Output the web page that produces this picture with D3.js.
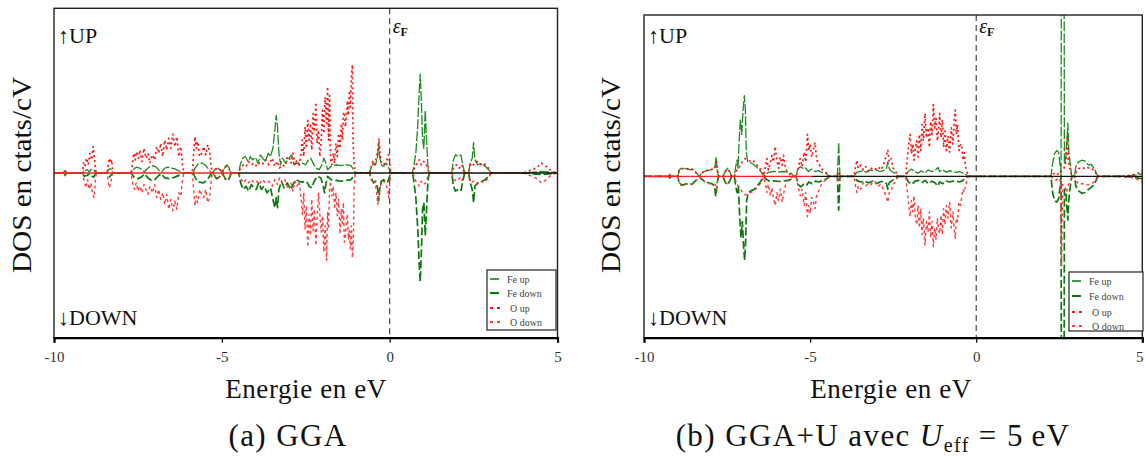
<!DOCTYPE html>
<html><head><meta charset="utf-8">
<script src="https://cdn.jsdelivr.net/npm/d3@7"></script>
<style>
html,body{margin:0;padding:0;background:#fff;}
svg{display:block;font-family:"Liberation Serif","Times New Roman",serif;}
</style></head>
<body>
<svg id="chart" width="1145" height="457"></svg>
<script>
// ---------- data ----------
const energyTicks = [-10, -5, 0, 5];
const tickLabels = ["-10", "-5", "0", "5"];
const seriesNames = ["Fe up", "Fe down", "O up", "O down"];
const panelCaptions = ["(a) GGA", "(b) GGA+U avec "];
const zeroLineStart = [-4.5, -4.96];

// GGA
const ggaFeUp = [[-10,0],[-9.72,0],[-9.7,0.1],[-9.67,0.15],[-9.64,0.1],[-9.62,0],
[-9.15,0],[-9.1,0.2],[-9.05,0.15],[-9.0,0.2],[-8.95,0.05],[-8.9,0.2],[-8.85,0.25],[-8.8,0.15],[-8.75,0],
[-8.42,0],[-8.38,0.2],[-8.33,0.25],[-8.28,0.2],[-8.25,0],
[-7.7,0],[-7.65,0.2],[-7.55,0.35],[-7.45,0.3],[-7.35,0.15],[-7.3,0.05],[-7.25,0.2],[-7.15,0.4],[-7.05,0.45],[-6.95,0.35],[-6.85,0.1],[-6.8,0.05],[-6.7,0.3],[-6.6,0.35],[-6.5,0.3],[-6.4,0.25],[-6.3,0.15],[-6.2,0.05],[-6.15,0],
[-5.85,0],[-5.8,0.3],[-5.7,0.55],[-5.6,0.6],[-5.5,0.5],[-5.42,0.3],[-5.35,0.1],[-5.3,0],
[-5.25,0.1],[-5.15,0.35],[-5.05,0.2],[-4.98,0],[-4.92,0.3],[-4.85,0.5],[-4.78,0.3],[-4.72,0],
[-4.5,0],[-4.45,0.5],[-4.38,0.9],[-4.3,1.0],[-4.22,0.7],[-4.15,1.0],[-4.08,0.8],[-4.0,0.95],[-3.92,0.6],[-3.85,1.1],[-3.78,0.9],[-3.7,0.7],[-3.62,1.2],[-3.55,1.0],[-3.48,1.5],[-3.42,2.6],[-3.38,3.5],[-3.34,2.8],[-3.3,1.2],[-3.25,0.5],[-3.2,0.9],[-3.1,0.6],[-3.0,0.9],[-2.92,1.1],[-2.85,0.5],[-2.78,0.6],[-2.7,0.55],[-2.6,0.6],[-2.5,0.5],[-2.42,0.8],[-2.35,0.9],[-2.28,0.6],[-2.2,0.3],[-2.1,0.2],[-2.02,0.5],[-1.96,0.9],[-1.9,0.6],[-1.85,0.2],[-1.75,0.4],[-1.6,0.5],[-1.45,0.45],[-1.3,0.5],[-1.15,0.45],[-1.05,0.1],[-1.0,0],
[-0.6,0],[-0.55,0.3],[-0.48,0.6],[-0.42,0.5],[-0.36,1.0],[-0.33,1.8],[-0.3,1.0],[-0.25,0.5],[-0.18,0.4],[-0.1,0.6],[-0.05,0.4],[0.0,0.2],[0.05,0],
[0.68,0],[0.72,0.4],[0.78,1.2],[0.84,3.0],[0.88,5.0],[0.91,6.0],[0.95,4.0],[0.98,2.0],[1.02,1.5],[1.06,3.8],[1.1,2.0],[1.14,0.4],[1.18,0],
[1.85,0],[1.9,0.8],[1.96,1.1],[2.05,1.0],[2.12,1.1],[2.2,0.3],[2.24,0],
[2.35,0],[2.4,0.6],[2.46,0.9],[2.5,1.85],[2.54,0.8],[2.62,0.5],[2.75,0.6],[2.85,0.4],[2.95,0.2],[3.02,0],
[4.0,0],[4.3,0.05],[4.55,0.1],[4.8,0.05],[5,0]];

const ggaFeDown = [[-10,0],[-9.72,0],[-9.67,-0.15],[-9.62,0],
[-9.15,0],[-9.1,-0.2],[-9.02,-0.15],[-8.95,-0.05],[-8.88,-0.2],[-8.82,-0.25],[-8.75,0],
[-8.42,0],[-8.35,-0.25],[-8.25,0],
[-7.7,0],[-7.6,-0.3],[-7.5,-0.35],[-7.4,-0.25],[-7.3,-0.05],[-7.2,-0.3],[-7.1,-0.45],[-7.0,-0.4],[-6.88,-0.15],[-6.8,-0.05],[-6.7,-0.3],[-6.55,-0.35],[-6.4,-0.25],[-6.25,-0.12],[-6.15,0],
[-5.85,0],[-5.78,-0.35],[-5.68,-0.55],[-5.55,-0.6],[-5.45,-0.45],[-5.35,-0.15],[-5.3,0],
[-5.25,-0.1],[-5.15,-0.35],[-5.05,-0.2],[-4.98,0],[-4.9,-0.35],[-4.82,-0.45],[-4.75,-0.2],[-4.72,0],
[-4.5,0],[-4.44,-0.6],[-4.36,-1.0],[-4.28,-0.8],[-4.2,-1.1],[-4.12,-0.7],[-4.05,-0.9],[-3.98,-1.0],[-3.9,-0.6],[-3.82,-1.0],[-3.75,-0.8],[-3.65,-1.2],[-3.55,-0.9],[-3.48,-1.6],[-3.42,-2.1],[-3.38,-1.5],[-3.34,-2.1],[-3.3,-1.0],[-3.22,-0.5],[-3.15,-0.9],[-3.05,-0.6],[-2.95,-1.0],[-2.88,-0.7],[-2.8,-0.4],[-2.7,-0.5],[-2.6,-0.55],[-2.48,-0.5],[-2.4,-0.8],[-2.32,-0.9],[-2.25,-0.5],[-2.15,-0.2],[-2.05,-0.3],[-1.98,-0.8],[-1.94,-1.2],[-1.9,-0.7],[-1.85,-0.2],[-1.75,-0.4],[-1.6,-0.45],[-1.45,-0.5],[-1.3,-0.45],[-1.15,-0.4],[-1.05,-0.1],[-1.0,0],
[-0.6,0],[-0.55,-0.3],[-0.48,-0.6],[-0.42,-0.5],[-0.36,-0.9],[-0.33,-1.7],[-0.3,-1.0],[-0.25,-0.5],[-0.18,-0.4],[-0.1,-0.6],[-0.05,-0.5],[0.0,-0.2],[0.05,0],
[0.68,0],[0.72,-0.5],[0.78,-1.5],[0.84,-3.5],[0.88,-5.5],[0.91,-6.6],[0.95,-4.5],[0.98,-2.2],[1.02,-1.8],[1.06,-3.8],[1.1,-2.2],[1.14,-0.5],[1.18,0],
[1.85,0],[1.9,-0.8],[1.96,-1.1],[2.05,-1.0],[2.12,-1.1],[2.2,-0.3],[2.24,0],
[2.35,0],[2.4,-0.6],[2.46,-1.0],[2.5,-1.8],[2.54,-0.8],[2.62,-0.6],[2.75,-0.5],[2.85,-0.4],[2.95,-0.2],[3.02,0],
[4.0,0],[4.55,-0.1],[5,0]];

const ggaOUp = [[-10,0],[-9.72,0],[-9.67,0.15],[-9.62,0],
[-9.15,0],[-9.12,0.6],[-9.08,0.4],[-9.03,0.9],[-8.98,0.5],[-8.93,1.2],[-8.88,0.8],[-8.83,1.6],[-8.8,1.0],[-8.77,0.3],[-8.74,0],
[-8.42,0],[-8.38,0.5],[-8.35,0.9],[-8.32,0.6],[-8.28,0.8],[-8.25,0],
[-7.7,0],[-7.66,0.6],[-7.62,1.2],[-7.58,0.8],[-7.54,1.3],[-7.48,0.9],[-7.44,1.4],[-7.38,0.7],[-7.32,1.5],[-7.26,0.9],[-7.2,1.2],[-7.14,0.6],[-7.08,1.1],[-7.0,0.8],[-6.94,1.6],[-6.88,1.2],[-6.82,1.8],[-6.76,1.0],[-6.7,2.0],[-6.64,1.4],[-6.58,2.1],[-6.52,1.5],[-6.46,2.36],[-6.4,1.6],[-6.34,2.2],[-6.28,1.0],[-6.22,1.6],[-6.17,0.5],[-6.13,0],
[-5.88,0],[-5.84,1.2],[-5.8,2.2],[-5.76,1.5],[-5.72,1.9],[-5.66,1.0],[-5.6,1.2],[-5.54,1.6],[-5.48,1.1],[-5.42,1.7],[-5.36,1.2],[-5.31,0.3],[-5.28,0],
[-5.2,0.2],[-5.1,0.3],[-5.0,0.05],[-4.9,0.4],[-4.8,0.3],[-4.72,0],
[-4.5,0],[-4.44,0.3],[-4.36,0.5],[-4.28,0.4],[-4.2,0.7],[-4.12,0.5],[-4.04,0.6],[-3.96,0.4],[-3.88,0.6],[-3.8,0.5],[-3.7,0.8],[-3.6,0.5],[-3.5,0.9],[-3.42,0.4],[-3.35,0.7],[-3.28,0.3],[-3.2,0.5],[-3.12,0.4],[-3.06,0.9],[-3.0,1.0],[-2.94,0.6],[-2.88,1.2],[-2.82,0.5],[-2.76,0.8],[-2.7,0.4],
[-2.64,1.2],[-2.6,2.0],[-2.56,1.0],[-2.52,2.8],[-2.48,1.5],[-2.44,3.2],[-2.4,2.0],[-2.36,3.0],[-2.32,1.4],[-2.28,3.6],[-2.24,2.5],[-2.2,4.3],[-2.16,1.8],[-2.12,2.6],[-2.08,1.0],[-2.04,2.0],[-2.0,3.8],[-1.96,2.4],[-1.92,4.6],[-1.88,3.0],[-1.85,5.25],[-1.82,2.0],[-1.79,4.7],[-1.76,0.8],[-1.72,0.5],[-1.68,1.2],[-1.64,0.6],[-1.6,1.8],[-1.56,1.0],[-1.52,2.4],[-1.48,1.5],[-1.44,3.0],[-1.41,2.0],[-1.38,3.6],[-1.35,3.7],[-1.32,2.8],[-1.29,3.5],[-1.26,4.4],[-1.23,3.5],[-1.2,5.0],[-1.17,4.0],[-1.14,5.8],[-1.11,6.57],[-1.09,2.0],[-1.06,0.5],[-1.03,0.1],[-1.0,0],
[-0.6,0],[-0.55,0.4],[-0.5,0.7],[-0.45,0.5],[-0.4,0.9],[-0.35,1.4],[-0.32,2.1],[-0.29,1.2],[-0.25,0.6],[-0.18,0.5],[-0.12,0.7],[-0.06,0.9],[-0.03,1.1],[0.0,0.6],[0.04,0],
[0.7,0],[0.75,0.4],[0.82,0.6],[0.88,0.8],[0.94,0.5],[1.0,0.7],[1.08,0.6],[1.14,0.2],[1.18,0],
[1.85,0],[1.92,0.4],[2.0,0.5],[2.08,0.3],[2.15,0.5],[2.22,0],
[2.35,0],[2.42,0.6],[2.5,0.5],[2.6,0.7],[2.7,0.5],[2.8,0.6],[2.9,0.4],[2.98,0.2],[3.02,0],
[4.0,0],[4.1,0.1],[4.25,0.2],[4.4,0.35],[4.52,0.6],[4.6,0.5],[4.7,0.35],[4.8,0.15],[4.9,0.05],[5,0]];

const ggaODown = [[-10,0],[-9.72,0],[-9.67,-0.15],[-9.62,0],
[-9.15,0],[-9.1,-0.5],[-9.05,-0.9],[-9.0,-0.4],[-8.95,-1.0],[-8.9,-0.6],[-8.85,-1.3],[-8.8,-1.5],[-8.77,-0.5],[-8.74,0],
[-8.42,0],[-8.38,-0.6],[-8.35,-0.9],[-8.3,-0.5],[-8.25,0],
[-7.7,0],[-7.65,-0.7],[-7.6,-1.0],[-7.55,-0.6],[-7.5,-1.1],[-7.44,-0.8],[-7.38,-1.2],[-7.32,-0.7],[-7.26,-1.0],[-7.2,-1.3],[-7.14,-0.8],[-7.06,-1.2],[-7.0,-0.7],[-6.94,-1.5],[-6.88,-1.0],[-6.82,-1.6],[-6.76,-1.2],[-6.7,-1.9],[-6.64,-1.3],[-6.58,-2.2],[-6.52,-1.6],[-6.46,-2.3],[-6.4,-1.7],[-6.34,-2.2],[-6.28,-1.2],[-6.22,-1.4],[-6.17,-0.4],[-6.13,0],
[-5.88,0],[-5.84,-1.0],[-5.8,-2.0],[-5.76,-1.4],[-5.72,-1.8],[-5.66,-1.0],[-5.6,-1.3],[-5.54,-1.5],[-5.48,-1.0],[-5.42,-1.8],[-5.36,-1.5],[-5.31,-0.3],[-5.28,0],
[-5.2,-0.2],[-5.1,-0.3],[-5.0,-0.05],[-4.9,-0.4],[-4.8,-0.3],[-4.72,0],
[-4.5,0],[-4.44,-0.3],[-4.36,-0.6],[-4.28,-0.4],[-4.2,-0.6],[-4.12,-0.4],[-4.04,-0.6],[-3.96,-0.5],[-3.88,-0.7],[-3.8,-0.4],[-3.7,-0.6],[-3.6,-0.5],[-3.5,-0.8],[-3.42,-0.4],[-3.35,-0.7],[-3.28,-0.3],[-3.2,-0.6],[-3.12,-0.4],[-3.06,-0.8],[-3.0,-1.0],[-2.94,-0.6],[-2.88,-1.1],[-2.82,-0.5],[-2.76,-0.8],[-2.7,-0.5],
[-2.64,-1.5],[-2.6,-2.5],[-2.56,-1.2],[-2.52,-3.4],[-2.48,-2.0],[-2.44,-4.5],[-2.4,-2.5],[-2.36,-3.8],[-2.32,-1.6],[-2.28,-3.5],[-2.24,-2.2],[-2.2,-4.4],[-2.16,-2.8],[-2.12,-1.2],[-2.08,-2.5],[-2.04,-3.6],[-2.0,-2.6],[-1.96,-4.8],[-1.92,-3.2],[-1.88,-5.3],[-1.85,-2.4],[-1.82,-3.4],[-1.79,-0.9],[-1.76,-0.5],[-1.72,-1.4],[-1.68,-0.8],[-1.64,-2.2],[-1.6,-1.2],[-1.56,-2.6],[-1.52,-1.6],[-1.48,-3.7],[-1.44,-2.2],[-1.41,-3.2],[-1.38,-1.8],[-1.35,-4.2],[-1.32,-3.9],[-1.29,-3.0],[-1.26,-2.5],[-1.23,-4.0],[-1.2,-3.5],[-1.17,-4.6],[-1.14,-3.2],[-1.11,-5.15],[-1.08,-4.0],[-1.06,-1.0],[-1.03,-0.1],[-1.0,0],
[-0.6,0],[-0.55,-0.4],[-0.5,-0.6],[-0.45,-0.5],[-0.4,-1.0],[-0.35,-1.9],[-0.32,-1.5],[-0.29,-0.9],[-0.25,-0.6],[-0.18,-0.5],[-0.12,-0.7],[-0.06,-1.0],[-0.03,-1.5],[0.0,-0.6],[0.04,0],
[0.7,0],[0.75,-0.4],[0.82,-0.6],[0.88,-0.8],[0.94,-0.5],[1.0,-0.7],[1.08,-0.6],[1.14,-0.2],[1.18,0],
[1.85,0],[1.92,-0.4],[2.0,-0.5],[2.08,-0.3],[2.15,-0.5],[2.22,0],
[2.35,0],[2.42,-0.6],[2.5,-0.5],[2.6,-0.7],[2.7,-0.5],[2.8,-0.6],[2.9,-0.4],[2.98,-0.2],[3.02,0],
[4.0,0],[4.1,-0.1],[4.25,-0.2],[4.4,-0.35],[4.52,-0.6],[4.6,-0.5],[4.7,-0.35],[4.8,-0.15],[4.9,-0.05],[5,0]];

// GGA+U
const ggauFeUp = [[-10,0],[-9.26,0],[-9.22,0.1],[-9.18,0],
[-8.98,0],[-8.94,0.4],[-8.88,0.5],[-8.8,0.45],[-8.72,0.5],[-8.62,0.4],[-8.55,0.45],[-8.45,0.3],[-8.38,0.1],[-8.33,0],
[-8.28,0.15],[-8.2,0.3],[-8.1,0.35],[-8.0,0.4],[-7.92,0.45],[-7.86,0.6],[-7.83,1.2],[-7.8,0.5],[-7.76,0],
[-7.62,0],[-7.55,0.35],[-7.48,0.5],[-7.42,0.3],[-7.36,0],
[-7.28,0],[-7.24,0.6],[-7.2,1.0],[-7.17,0.5],[-7.14,2.0],[-7.1,3.5],[-7.06,2.6],[-7.02,4.0],[-6.98,5.0],[-6.95,4.2],[-6.92,1.5],[-6.88,0.9],[-6.8,0.85],[-6.7,0.75],[-6.6,0.55],[-6.5,0.35],[-6.42,0.1],[-6.38,0],
[-6.34,0.15],[-6.25,0.25],[-6.1,0.3],[-5.95,0.28],[-5.8,0.3],[-5.65,0.25],[-5.55,0.15],[-5.48,0],
[-5.42,0],[-5.38,0.4],[-5.3,0.6],[-5.22,0.5],[-5.15,0.55],[-5.05,0.3],[-4.95,0.45],[-4.85,0.3],[-4.75,0.35],[-4.65,0.25],[-4.5,0.15],[-4.42,0],
[-4.18,0],[-4.16,1.0],[-4.14,2.1],[-4.12,1.0],[-4.1,0],
[-3.68,0],[-3.6,0.25],[-3.5,0.3],[-3.4,0.35],[-3.3,0.25],[-3.2,0.4],[-3.1,0.35],[-3.0,0.4],[-2.9,0.3],[-2.8,0.35],[-2.7,0.5],[-2.66,0.9],[-2.62,0.5],[-2.55,0.3],[-2.45,0.2],[-2.35,0],
[-2.12,0],[-2.05,0.3],[-1.95,0.45],[-1.85,0.3],[-1.75,0.2],[-1.65,0.35],[-1.55,0.2],[-1.45,0.4],[-1.35,0.3],[-1.25,0.35],[-1.15,0.55],[-1.1,0.3],[-1.0,0.4],[-0.9,0.25],[-0.8,0.35],[-0.7,0.3],[-0.6,0.25],[-0.5,0.3],[-0.4,0.2],[-0.3,0.1],[-0.25,0],
[2.25,0],[2.3,0.8],[2.36,1.4],[2.42,1.6],[2.48,1.5],[2.53,0.6],[2.555,0],[2.565,16],[2.645,16],[2.655,0.8],[2.7,1.2],[2.74,2.5],[2.76,3.3],[2.79,1.5],[2.84,0.6],[2.88,0],
[2.96,0],[3.0,0.6],[3.08,0.9],[3.18,1.0],[3.28,0.95],[3.38,0.7],[3.46,0.75],[3.55,0.5],[3.62,0.2],[3.66,0],
[4.2,0],[4.6,0.03],[4.85,0.1],[5,0.15]];

const ggauFeDown = [[-10,0],[-9.26,0],[-9.22,-0.1],[-9.18,0],
[-8.98,0],[-8.94,-0.45],[-8.86,-0.55],[-8.76,-0.5],[-8.66,-0.45],[-8.56,-0.5],[-8.46,-0.3],[-8.38,-0.1],[-8.33,0],
[-8.28,-0.15],[-8.18,-0.3],[-8.06,-0.4],[-7.96,-0.45],[-7.88,-0.6],[-7.84,-1.25],[-7.8,-0.5],[-7.76,0],
[-7.62,0],[-7.55,-0.4],[-7.48,-0.5],[-7.42,-0.3],[-7.36,0],
[-7.28,0],[-7.24,-0.6],[-7.2,-1.0],[-7.16,-0.6],[-7.12,-2.5],[-7.08,-3.8],[-7.04,-2.8],[-7.0,-4.4],[-6.97,-5.2],[-6.94,-4.0],[-6.91,-1.5],[-6.86,-1.0],[-6.78,-0.9],[-6.68,-0.8],[-6.58,-0.55],[-6.5,-0.35],[-6.42,-0.1],[-6.38,0],
[-6.34,-0.15],[-6.22,-0.3],[-6.08,-0.28],[-5.94,-0.32],[-5.8,-0.28],[-5.65,-0.25],[-5.55,-0.15],[-5.48,0],
[-5.42,0],[-5.36,-0.5],[-5.28,-0.65],[-5.2,-0.5],[-5.12,-0.6],[-5.04,-0.35],[-4.94,-0.45],[-4.84,-0.3],[-4.72,-0.35],[-4.6,-0.2],[-4.5,-0.15],[-4.42,0],
[-4.18,0],[-4.16,-1.0],[-4.14,-2.1],[-4.12,-1.0],[-4.1,0],
[-3.68,0],[-3.6,-0.25],[-3.48,-0.35],[-3.36,-0.3],[-3.24,-0.4],[-3.12,-0.3],[-3.0,-0.45],[-2.9,-0.35],[-2.8,-0.3],[-2.7,-0.45],[-2.66,-0.8],[-2.62,-0.4],[-2.52,-0.25],[-2.42,-0.15],[-2.35,0],
[-2.12,0],[-2.04,-0.35],[-1.94,-0.5],[-1.84,-0.3],[-1.74,-0.25],[-1.64,-0.4],[-1.54,-0.25],[-1.44,-0.45],[-1.34,-0.3],[-1.24,-0.4],[-1.16,-0.6],[-1.1,-0.35],[-1.0,-0.45],[-0.9,-0.3],[-0.8,-0.35],[-0.7,-0.3],[-0.6,-0.3],[-0.5,-0.35],[-0.4,-0.25],[-0.3,-0.1],[-0.25,0],
[2.25,0],[2.3,-1.0],[2.36,-1.5],[2.42,-1.6],[2.48,-1.4],[2.53,-0.6],[2.555,0],[2.565,-16],[2.645,-16],[2.655,-0.8],[2.7,-1.0],[2.74,-2.2],[2.76,-2.7],[2.79,-1.4],[2.84,-0.5],[2.88,0],
[2.96,0],[3.0,-0.6],[3.08,-0.9],[3.18,-1.05],[3.28,-1.0],[3.38,-0.8],[3.46,-0.7],[3.55,-0.5],[3.62,-0.2],[3.66,0],
[4.2,0],[4.6,-0.03],[4.85,-0.1],[5,-0.15]];

const ggauOUp = [[-10,0],[-9.26,0],[-9.22,0.12],[-9.18,0],
[-8.98,0],[-8.94,0.35],[-8.88,0.45],[-8.8,0.5],[-8.7,0.45],[-8.6,0.5],[-8.5,0.35],[-8.4,0.15],[-8.33,0],
[-8.26,0.2],[-8.16,0.35],[-8.04,0.4],[-7.94,0.45],[-7.86,0.5],[-7.82,0.9],[-7.79,0.3],[-7.76,0],
[-7.62,0],[-7.55,0.3],[-7.48,0.45],[-7.42,0.25],[-7.36,0],
[-7.28,0],[-7.2,0.4],[-7.12,0.6],[-7.04,0.9],[-6.96,1.1],[-6.88,1.0],[-6.8,0.95],[-6.72,1.0],[-6.64,0.8],[-6.56,0.6],[-6.48,0.4],[-6.4,0.05],
[-6.35,0.5],[-6.3,1.1],[-6.26,0.4],[-6.2,0.8],[-6.15,1.3],[-6.1,0.9],[-6.05,1.85],[-6.0,1.0],[-5.95,0.5],[-5.9,1.2],[-5.84,0.7],[-5.8,1.3],[-5.75,0.6],[-5.7,0.3],[-5.6,0.1],[-5.5,0],
[-5.42,0],[-5.36,0.5],[-5.3,1.1],[-5.24,0.6],[-5.18,1.5],[-5.13,0.9],[-5.08,2.6],[-5.04,1.6],[-5.0,2.0],[-4.95,1.2],[-4.9,1.7],[-4.85,2.1],[-4.8,1.0],[-4.74,0.8],[-4.66,0.5],[-4.58,0.3],[-4.5,0.2],[-4.42,0],
[-4.18,0],[-4.14,0.3],[-4.1,0],
[-3.68,0],[-3.63,0.6],[-3.59,1.0],[-3.55,0.5],[-3.48,0.7],[-3.4,0.4],[-3.32,0.6],[-3.24,0.3],[-3.16,0.5],[-3.06,0.4],[-2.96,0.6],[-2.86,0.4],[-2.78,0.8],[-2.72,1.2],[-2.66,1.65],[-2.62,0.9],[-2.56,1.1],[-2.5,0.5],[-2.42,0.3],[-2.35,0],
[-2.12,0],[-2.07,1.2],[-2.03,2.0],[-1.99,2.6],[-1.95,1.4],[-1.91,2.0],[-1.87,1.0],[-1.83,1.8],[-1.79,2.2],[-1.75,1.2],[-1.71,2.6],[-1.67,1.6],[-1.63,3.2],[-1.59,2.2],[-1.54,3.9],[-1.5,2.4],[-1.45,3.0],[-1.41,1.8],[-1.37,3.4],[-1.33,2.6],[-1.29,4.45],[-1.25,3.0],[-1.21,3.6],[-1.17,2.2],[-1.13,3.0],[-1.1,3.9],[-1.06,2.4],[-1.02,3.5],[-0.98,1.8],[-0.94,2.8],[-0.9,1.6],[-0.85,2.5],[-0.8,1.5],[-0.75,3.0],[-0.7,2.0],[-0.66,3.5],[-0.63,4.1],[-0.6,2.6],[-0.56,3.2],[-0.52,1.6],[-0.47,2.0],[-0.43,1.85],[-0.4,1.0],[-0.36,1.45],[-0.32,0.6],[-0.28,0.3],[-0.25,0.05],[-0.15,0],
[2.25,0],[2.32,0.15],[2.4,0.25],[2.48,0.1],[2.56,0.3],[2.64,0.5],[2.7,0.9],[2.74,2.5],[2.77,1.0],[2.84,0.3],[2.88,0],
[2.96,0],[3.02,0.3],[3.1,0.5],[3.2,0.45],[3.3,0.6],[3.4,0.5],[3.5,0.45],[3.58,0.3],[3.64,0],
[4.2,0],[4.5,0.03],[4.7,0.08],[4.85,0.18],[4.95,0.3],[5,0.35]];

const ggauODown = [[-10,0],[-9.26,0],[-9.22,-0.12],[-9.18,0],
[-8.98,0],[-8.94,-0.4],[-8.86,-0.5],[-8.76,-0.45],[-8.66,-0.5],[-8.56,-0.45],[-8.46,-0.35],[-8.38,-0.15],[-8.33,0],
[-8.26,-0.2],[-8.16,-0.35],[-8.04,-0.45],[-7.94,-0.45],[-7.86,-0.5],[-7.82,-0.8],[-7.79,-0.3],[-7.76,0],
[-7.62,0],[-7.55,-0.35],[-7.48,-0.5],[-7.42,-0.25],[-7.36,0],
[-7.28,0],[-7.2,-0.5],[-7.12,-0.7],[-7.04,-1.0],[-6.96,-1.15],[-6.88,-1.1],[-6.8,-1.0],[-6.72,-0.95],[-6.64,-0.8],[-6.56,-0.6],[-6.48,-0.4],[-6.4,-0.05],
[-6.35,-0.4],[-6.3,-1.0],[-6.26,-0.5],[-6.2,-1.2],[-6.15,-0.7],[-6.1,-1.4],[-6.05,-1.8],[-6.0,-1.0],[-5.95,-1.5],[-5.9,-0.8],[-5.84,-1.6],[-5.8,-1.1],[-5.75,-0.6],[-5.7,-0.3],[-5.6,-0.1],[-5.5,0],
[-5.42,0],[-5.36,-0.6],[-5.3,-1.2],[-5.24,-0.8],[-5.18,-1.8],[-5.13,-1.0],[-5.08,-2.5],[-5.04,-1.8],[-5.0,-2.3],[-4.95,-1.3],[-4.9,-1.6],[-4.85,-2.0],[-4.8,-1.1],[-4.74,-0.9],[-4.66,-0.5],[-4.58,-0.3],[-4.5,-0.2],[-4.42,0],
[-4.18,0],[-4.14,-0.3],[-4.1,0],
[-3.68,0],[-3.63,-0.6],[-3.59,-1.0],[-3.55,-0.6],[-3.48,-0.8],[-3.4,-0.4],[-3.32,-0.6],[-3.24,-0.4],[-3.16,-0.5],[-3.06,-0.3],[-2.96,-0.6],[-2.86,-0.5],[-2.78,-0.9],[-2.72,-1.2],[-2.66,-1.6],[-2.62,-1.0],[-2.56,-0.9],[-2.5,-0.5],[-2.42,-0.3],[-2.35,0],
[-2.12,0],[-2.07,-1.0],[-2.03,-1.8],[-1.99,-2.5],[-1.95,-1.5],[-1.91,-2.2],[-1.87,-1.2],[-1.83,-2.6],[-1.79,-3.0],[-1.75,-1.8],[-1.71,-3.2],[-1.67,-2.0],[-1.63,-3.6],[-1.59,-2.6],[-1.54,-4.26],[-1.5,-2.8],[-1.45,-3.4],[-1.41,-2.2],[-1.37,-3.8],[-1.33,-2.8],[-1.29,-4.36],[-1.25,-3.2],[-1.21,-3.9],[-1.17,-2.6],[-1.13,-3.3],[-1.1,-3.55],[-1.06,-2.4],[-1.02,-3.6],[-0.98,-2.0],[-0.94,-3.0],[-0.9,-1.8],[-0.85,-2.6],[-0.8,-1.6],[-0.75,-3.2],[-0.7,-2.2],[-0.66,-3.4],[-0.63,-3.84],[-0.6,-2.6],[-0.56,-2.8],[-0.52,-1.6],[-0.47,-1.8],[-0.43,-1.2],[-0.4,-0.8],[-0.36,-1.0],[-0.32,-0.5],[-0.28,-0.3],[-0.25,-0.05],[-0.15,0],
[2.25,0],[2.32,-0.15],[2.4,-0.25],[2.48,-0.1],[2.54,-0.3],[2.57,-5.6],[2.6,-0.5],[2.66,-0.6],[2.72,-1.0],[2.78,-0.5],[2.84,-0.3],[2.88,0],
[2.96,0],[3.02,-0.3],[3.1,-0.5],[3.2,-0.45],[3.3,-0.55],[3.4,-0.5],[3.5,-0.4],[3.58,-0.3],[3.64,0],
[4.2,0],[4.5,-0.03],[4.7,-0.08],[4.85,-0.18],[4.95,-0.3],[5,-0.35]];

// ---------- drawing ----------
const svg = d3.select("#chart");
const styles = [
  {color:"#1f8a1f", width:1.3, dash:"10,2"},
  {color:"#0d780d", width:1.7, dash:"8,3"},
  {color:"#ff1414", width:1.7, dash:"2,3"},
  {color:"#ff3a3a", width:1.4, dash:"3,3"}
];

const panels = [
  {left:54, right:557.5, top:8.3, bottom:337.7, series:[ggaFeUp, ggaFeDown, ggaOUp, ggaODown],
   zero:zeroLineStart[0], legend:{x:487, y:270, w:69, h:60, rowY:[279,293,308,322]},
   ylabelX:22, upX:58, xlabelX:306, capX:288, id:"a"},
  {left:644, right:1142.3, top:15, bottom:337.7, series:[ggauFeUp, ggauFeDown, ggauOUp, ggauODown],
   zero:zeroLineStart[1], legend:{x:1069, y:272, w:74, h:59, rowY:[281,296,312,326]},
   ylabelX:611, upX:648, xlabelX:891, capX:873, id:"b"}
];

panels.forEach((p, pi) => {
  const x = d3.scaleLinear().domain([-10, 5]).range([p.left, p.right]);
  const y = d3.scaleLinear().domain([-10, 10]).range([p.bottom, p.top]);
  const g = svg.append("g");

  g.append("clipPath").attr("id", "clip" + p.id).append("rect")
    .attr("x", p.left).attr("y", p.top).attr("width", p.right - p.left).attr("height", p.bottom - p.top);

  const plot = g.append("g").attr("clip-path", `url(#clip${p.id})`);
  const line = d3.line().x(d => x(d[0])).y(d => y(d[1]));

  // Fermi level
  plot.append("line").attr("x1", x(0)).attr("x2", x(0)).attr("y1", p.top).attr("y2", p.bottom)
    .attr("stroke", "#333").attr("stroke-width", 1.1).attr("stroke-dasharray", "6,4");

  p.series.forEach((s, i) => {
    plot.append("path").datum(s).attr("d", line).attr("fill", "none")
      .attr("stroke", styles[i].color).attr("stroke-width", styles[i].width)
      .attr("stroke-dasharray", styles[i].dash).attr("stroke-linejoin", "round");
  });

  // zero lines
  plot.append("line").attr("x1", x(-10)).attr("x2", x(p.zero)).attr("y1", y(0)).attr("y2", y(0))
    .attr("stroke", "#ff2020").attr("stroke-width", 1.4);
  plot.append("line").attr("x1", x(p.zero)).attr("x2", x(5)).attr("y1", y(0)).attr("y2", y(0))
    .attr("stroke", "#111").attr("stroke-width", 1.4);

  // frame
  g.append("rect").attr("x", p.left).attr("y", p.top).attr("width", p.right - p.left).attr("height", p.bottom - p.top)
    .attr("fill", "none").attr("stroke", "#222").attr("stroke-width", 1.4);

  // x axis
  const ax = g.append("g").attr("transform", `translate(0,${p.bottom})`)
    .call(d3.axisBottom(x).tickValues(energyTicks).tickFormat((d, i) => tickLabels[i]).tickSize(5).tickPadding(9));
  ax.select(".domain").attr("stroke", "#000").attr("stroke-width", 2.2);
  ax.selectAll(".tick line").attr("stroke", "#000").attr("stroke-width", 1.2);
  ax.selectAll(".tick text").attr("font-family", "Liberation Serif").attr("font-size", 15).attr("fill", "#333")
    .attr("dx", d => (pi === 1 && d === 5) ? -3 : 0);

  // labels
  g.append("text").attr("x", p.xlabelX).attr("y", 398).attr("text-anchor", "middle")
    .attr("font-size", 27).attr("letter-spacing", 0.6).attr("fill", "#111").text("Energie en eV");
  g.append("text").attr("transform", `translate(${p.ylabelX + 9},175) rotate(-90)`)
    .attr("text-anchor", "middle").attr("font-size", 28).attr("fill", "#111")
    .attr("textLength", 196).attr("lengthAdjust", "spacingAndGlyphs").text("DOS en ctats/cV");
  g.append("text").attr("x", p.upX).attr("y", 43).attr("font-size", 22).attr("fill", "#111").text("↑UP");
  g.append("text").attr("x", p.upX).attr("y", 325).attr("font-size", 22).attr("fill", "#111").text("↓DOWN");

  const ef = g.append("text").attr("x", x(0) + 3).attr("y", 33).attr("fill", "#111");
  ef.append("tspan").attr("font-style", "italic").attr("font-size", 20).text("ε");
  ef.append("tspan").attr("font-size", 12).attr("font-weight", "bold").attr("dy", 3).text("F");

  // legend
  const L = p.legend;
  const lg = g.append("g");
  lg.append("rect").attr("x", L.x).attr("y", L.y).attr("width", L.w).attr("height", L.h)
    .attr("fill", "#fff").attr("stroke", "#333").attr("stroke-width", 1.3);
  seriesNames.forEach((n, i) => {
    lg.append("line").attr("x1", L.x + 3).attr("x2", L.x + 15).attr("y1", L.rowY[i]).attr("y2", L.rowY[i])
      .attr("stroke", styles[i].color).attr("stroke-width", styles[i].width + 0.4)
      .attr("stroke-dasharray", i < 2 ? "9,3" : "3,4");
    lg.append("text").attr("x", L.x + (i < 2 ? 20 : 23)).attr("y", L.rowY[i] + 3.5)
      .attr("font-size", 10).attr("fill", "#444").text(n);
  });

  // caption
  const cap = svg.append("text").attr("x", p.capX).attr("y", 446).attr("text-anchor", "middle")
    .attr("font-size", 31).attr("letter-spacing", 1.4).attr("fill", "#111");
  cap.append("tspan").text(panelCaptions[pi]);
  if (pi === 1) {
    cap.append("tspan").attr("font-style", "italic").text("U");
    cap.append("tspan").attr("font-size", 20).attr("dy", 6).text("eff");
    cap.append("tspan").attr("dy", -6).text(" = 5\u2009eV");
  }
});
</script>
</body></html>
